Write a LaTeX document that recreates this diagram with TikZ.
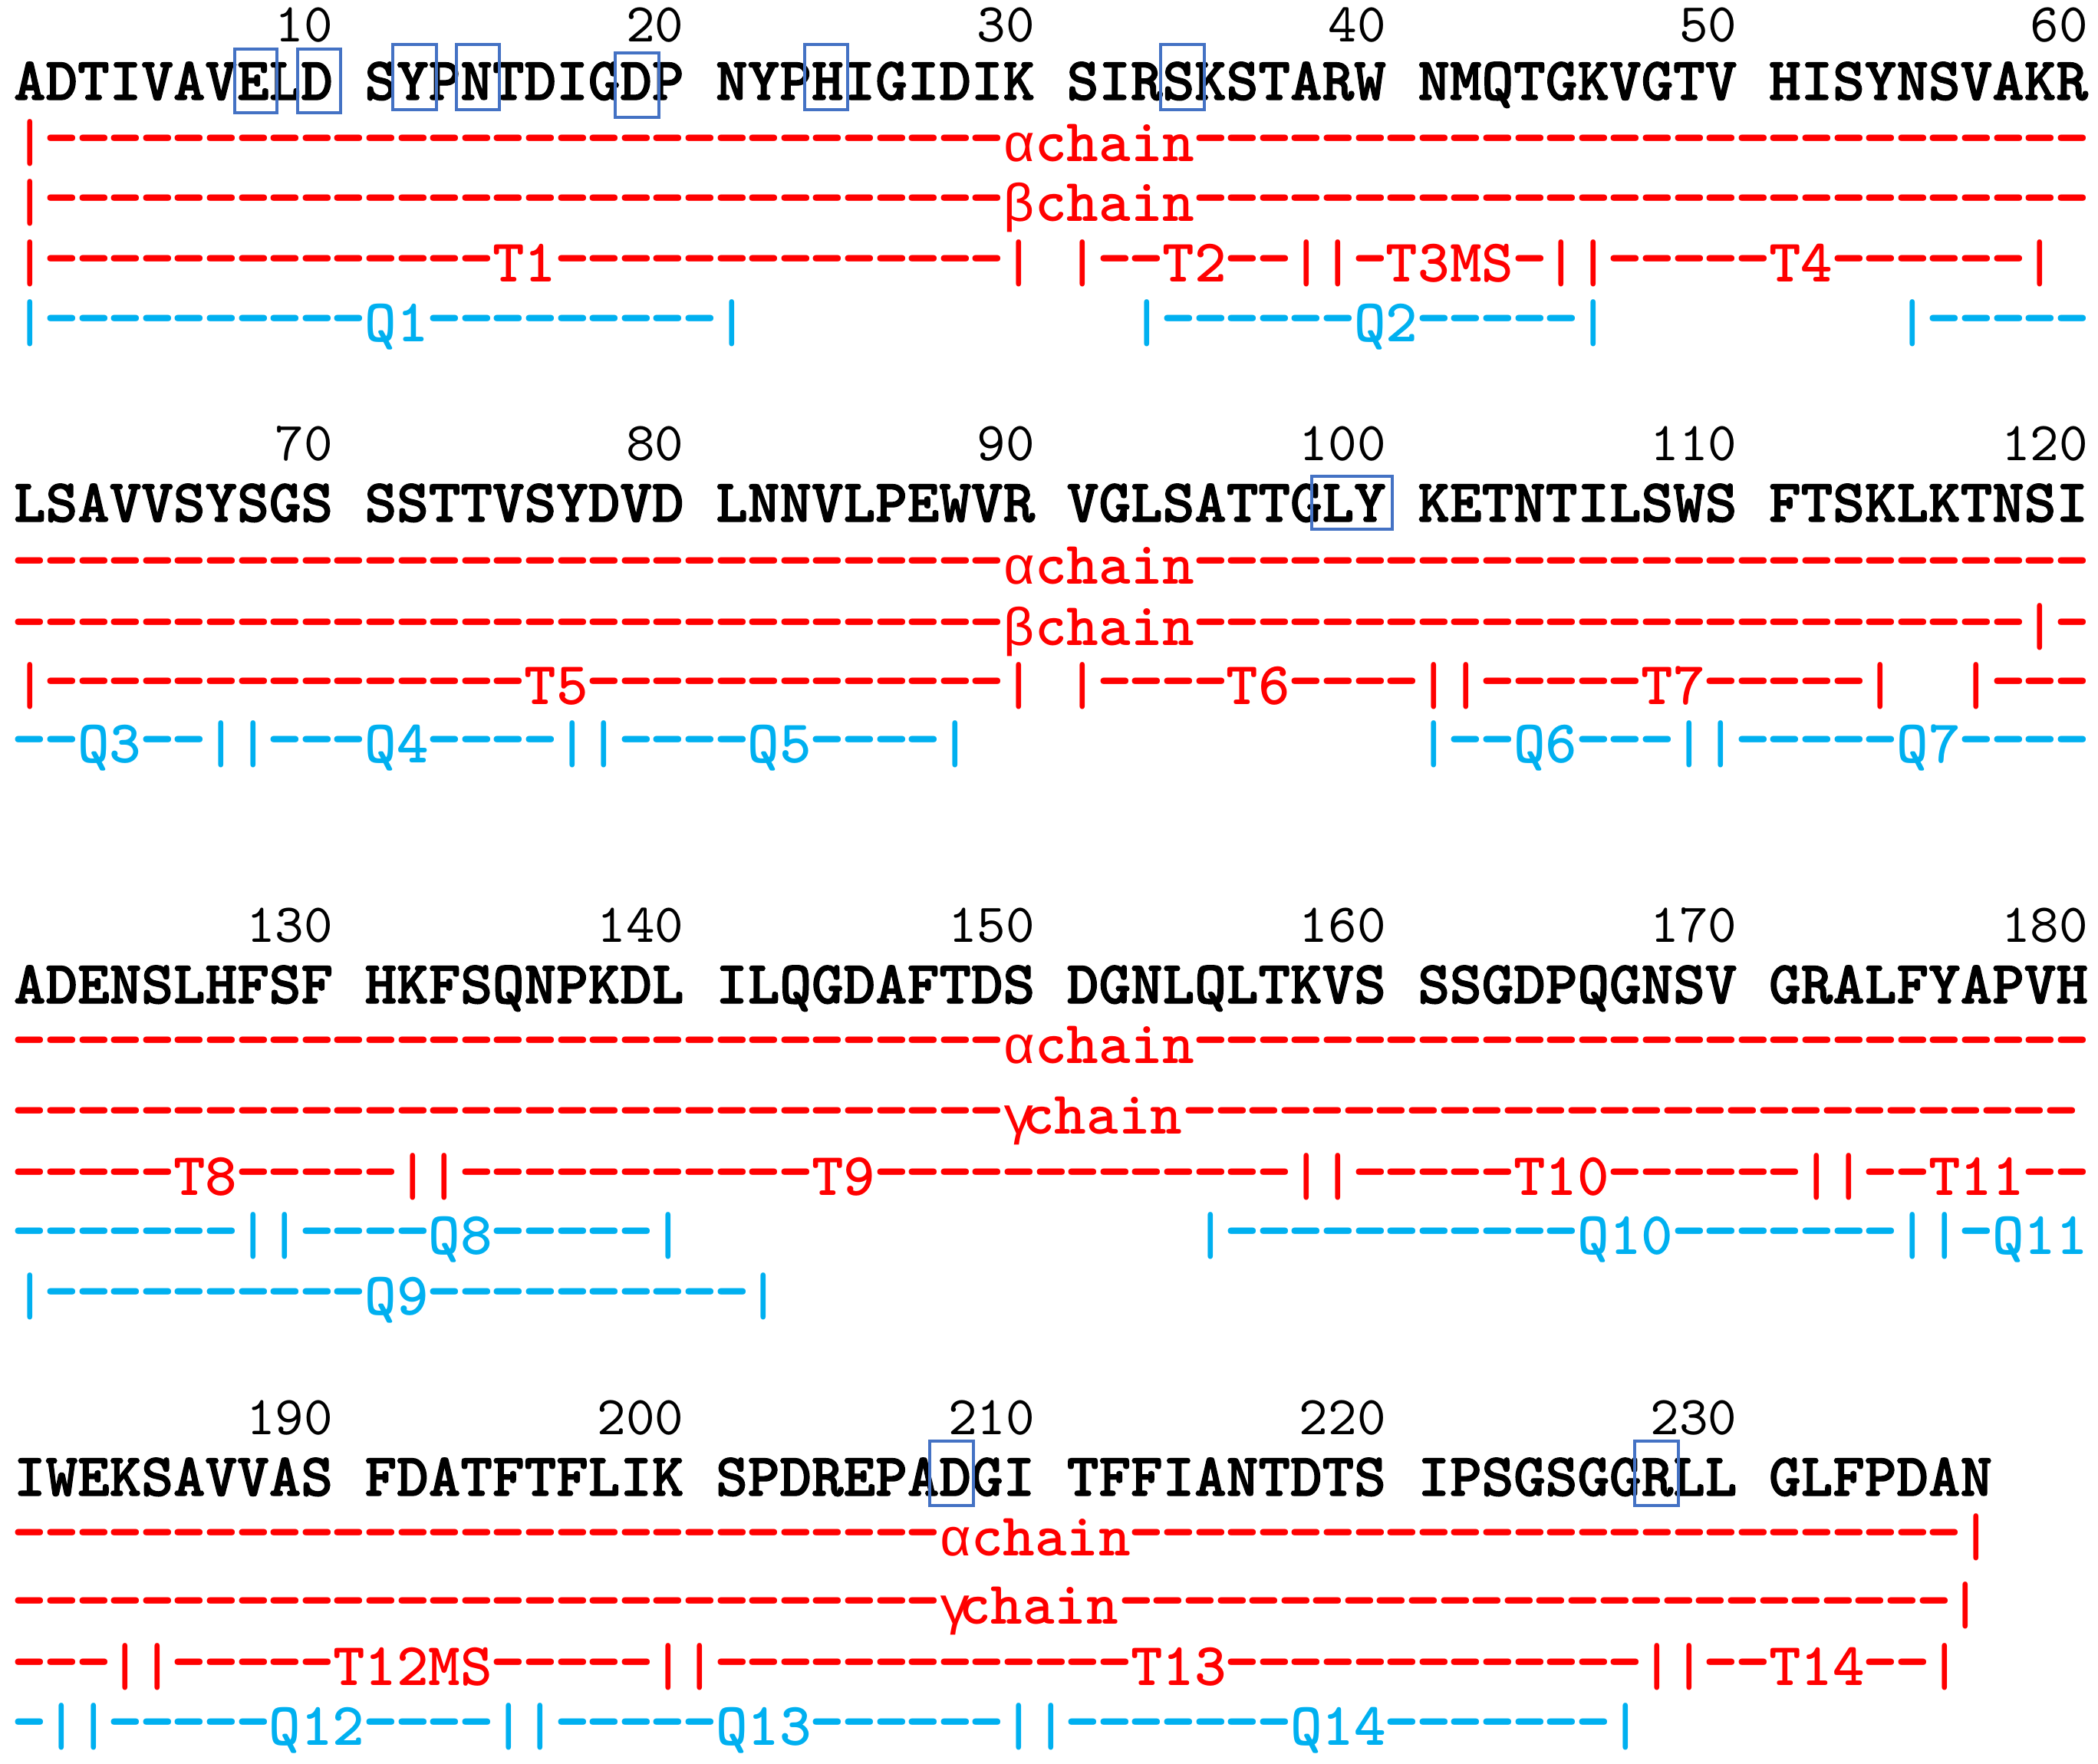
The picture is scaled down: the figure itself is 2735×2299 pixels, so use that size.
\documentclass[tikz,border=0pt]{standalone}
\usepackage{fontspec}
\usepackage{graphicx}
\newfontfamily\monof[Ligatures=TeXOff]{Liberation Mono}
\newfontfamily\lmreg[Ligatures=TeXOff, Extension=.otf]{lmmono10-regular}
\newfontfamily\lmbold[Ligatures=TeXOff, Extension=.otf]{lmmonolt10-bold}
\newfontfamily\lmheavy[Ligatures=TeXOff, Extension=.otf, FakeBold=1.6]{lmmonolt10-bold}
\newcommand\onehy{\hbox to 0.525em{\hss\scalebox{1.1}[1.25]{-}\hss}}
\ExplSyntaxOn
\cs_new:Npn \hy #1 {\prg_replicate:nn{#1}{\onehy}}
\ExplSyntaxOff
\newcommand\grk[1]{{\monof\fontsize{20.8}{24}\selectfont #1}}
\definecolor{segred}{HTML}{FF0000}
\definecolor{segblue}{HTML}{00B0F0}
\definecolor{boxblue}{HTML}{4472C4}
\tikzset{
  txt/.style={anchor=base west, inner sep=0pt, outer sep=0pt, font=\lmbold\fontsize{23.77}{28}\selectfont},
  numtxt/.style={txt, anchor=base east, text=black, font=\lmreg\fontsize{21.5}{26}\selectfont},
  seqtxt/.style={txt, text=black, font=\lmheavy\fontsize{23.77}{28}\selectfont},
  chainln/.style={txt, text=segred},
  cutln/.style={txt, text=segred},
  qln/.style={txt, text=segblue},
  resbox/.style={draw=boxblue, line width=1pt}
}
\newcounter{segn}
% number ending at column #2
\newcommand\numat[3]{\node[numtxt] (#1) at ({18+41.6*(#2+1)},#3) {#1};}
% start a line: style, first column, baseline y
\newcommand\startln[3]{\tikzset{cur/.style={#1}}\def\curcol{#2}\def\cury{#3}}
% place a piece of #1 columns
\newcommand\pc[2]{\stepcounter{segn}\node[cur] (s\arabic{segn}) at ({18+41.6*\curcol},\cury) {#2};\pgfmathsetmacro\curcol{\curcol+#1}}
\newcommand\dsh[1]{\pc{#1}{\hy{#1}}}
\newcommand\vb{\pc{1}{|}}
\newcommand\lbl[2]{\pc{#1}{#2}}
\newcommand\skipc[1]{\pgfmathsetmacro\curcol{\curcol+#1}}
\begin{document}
\begin{tikzpicture}[x=0.3pt,y=-0.3pt]
\fill[white] (0,0) rectangle (2735,2299);
\useasboundingbox (0,0) rectangle (2735,2299);

% ---------------- block 1 ----------------
\numat{10}{9}{54}\numat{20}{20}{54}\numat{30}{31}{54}\numat{40}{42}{54}\numat{50}{53}{54}\numat{60}{64}{54}
\startln{seqtxt}{0}{130}
\lbl{11}{ADTIVAVELD}\lbl{11}{SYPNTDIGDP}\lbl{11}{NYPHIGIDIK}\lbl{11}{SIRSKSTARW}\lbl{11}{NMQTGKVGTV}\lbl{10}{HISYNSVAKR}
\startln{chainln}{0}{210}
\vb\dsh{30}\lbl{6}{\grk{α}chain}\dsh{28}
\startln{chainln}{0}{288}
\vb\dsh{30}\lbl{6}{\grk{β}chain}\dsh{28}
\startln{cutln}{0}{367}
\vb\dsh{14}\lbl{2}{T1}\dsh{14}\vb\skipc{1}\vb\dsh{2}\lbl{2}{T2}\dsh{2}\vb\vb\dsh{1}\lbl{4}{T3MS}\dsh{1}\vb\vb\dsh{5}\lbl{2}{T4}\dsh{6}\vb
\startln{qln}{0}{445}
\vb\dsh{10}\lbl{2}{Q1}\dsh{9}\vb\skipc{12}\vb\dsh{6}\lbl{2}{Q2}\dsh{5}\vb\skipc{9}\vb\dsh{5}

% ---------------- block 2 ----------------
\numat{70}{9}{600}\numat{80}{20}{600}\numat{90}{31}{600}\numat{100}{42}{600}\numat{110}{53}{600}\numat{120}{64}{600}
\startln{seqtxt}{0}{680}
\lbl{11}{LSAVVSYSGS}\lbl{11}{SSTTVSYDVD}\lbl{11}{LNNVLPEWVR}\lbl{11}{VGLSATTGLY}\lbl{11}{KETNTILSWS}\lbl{10}{FTSKLKTNSI}
\startln{chainln}{0}{761}
\dsh{31}\lbl{6}{\grk{α}chain}\dsh{28}
\startln{chainln}{0}{841}
\dsh{31}\lbl{6}{\grk{β}chain}\dsh{26}\vb\dsh{1}
\startln{cutln}{0}{918}
\vb\dsh{15}\lbl{2}{T5}\dsh{13}\vb\skipc{1}\vb\dsh{4}\lbl{2}{T6}\dsh{4}\vb\vb\dsh{5}\lbl{2}{T7}\dsh{5}\vb\skipc{2}\vb\dsh{3}
\startln{qln}{0}{994}
\dsh{2}\lbl{2}{Q3}\dsh{2}\vb\vb\dsh{3}\lbl{2}{Q4}\dsh{4}\vb\vb\dsh{4}\lbl{2}{Q5}\dsh{4}\vb\skipc{14}\vb\dsh{2}\lbl{2}{Q6}\dsh{3}\vb\vb\dsh{5}\lbl{2}{Q7}\dsh{4}

% ---------------- block 3 ----------------
\numat{130}{9}{1228}\numat{140}{20}{1228}\numat{150}{31}{1228}\numat{160}{42}{1228}\numat{170}{53}{1228}\numat{180}{64}{1228}
\startln{seqtxt}{0}{1308}
\lbl{11}{ADENSLHFSF}\lbl{11}{HKFSQNPKDL}\lbl{11}{ILQGDAFTDS}\lbl{11}{DGNLQLTKVS}\lbl{11}{SSGDPQGNSV}\lbl{10}{GRALFYAPVH}
\startln{chainln}{0}{1386}
\dsh{31}\lbl{6}{\grk{α}chain}\dsh{28}
\startln{chainln}{0}{1478}
\dsh{31}\lbl{6}{\grk{γ}\kern-0.2em chain}\skipc{-0.33}\dsh{28}
\startln{cutln}{0}{1558}
\dsh{5}\lbl{2}{T8}\dsh{5}\vb\vb\dsh{11}\lbl{2}{T9}\dsh{13}\vb\vb\dsh{5}\lbl{3}{T10}\dsh{6}\vb\vb\dsh{2}\lbl{3}{T11}\dsh{2}
\startln{qln}{0}{1635}
\dsh{7}\vb\vb\dsh{4}\lbl{2}{Q8}\dsh{5}\vb\skipc{16}\vb\dsh{11}\lbl{3}{Q10}\dsh{7}\vb\vb\dsh{1}\lbl{3}{Q11}
\startln{qln}{0}{1714}
\vb\dsh{10}\lbl{2}{Q9}\dsh{10}\vb

% ---------------- block 4 ----------------
\numat{190}{9}{1870}\numat{200}{20}{1870}\numat{210}{31}{1870}\numat{220}{42}{1870}\numat{230}{53}{1870}
\startln{seqtxt}{0}{1950}
\lbl{11}{IWEKSAVVAS}\lbl{11}{FDATFTFLIK}\lbl{11}{SPDREPADGI}\lbl{11}{TFFIANTDTS}\lbl{11}{IPSGSGGRLL}\lbl{7}{GLFPDAN}
\startln{chainln}{0}{2028}
\dsh{29}\lbl{6}{\grk{α}chain}\dsh{26}\vb
\startln{chainln}{0}{2117}
\dsh{29}\lbl{6}{\grk{γ}\kern-0.2em chain}\skipc{-0.33}\dsh{26}\vb
\startln{cutln}{0}{2197}
\dsh{3}\vb\vb\dsh{5}\lbl{5}{T12MS}\dsh{5}\vb\vb\dsh{13}\lbl{3}{T13}\dsh{13}\vb\vb\dsh{2}\lbl{3}{T14}\dsh{2}\vb
\startln{qln}{0}{2275}
\dsh{1}\vb\vb\dsh{5}\lbl{3}{Q12}\dsh{4}\vb\vb\dsh{5}\lbl{3}{Q13}\dsh{6}\vb\vb\dsh{7}\lbl{3}{Q14}\dsh{7}\vb

% ---------------- residue boxes ----------------
\draw[resbox] (306,64) rectangle (361,147);
\draw[resbox] (388,64) rectangle (444,147);
\draw[resbox] (512,58) rectangle (569,143);
\draw[resbox] (595,58) rectangle (651,143);
\draw[resbox] (802,69) rectangle (859,153);
\draw[resbox] (1049,58) rectangle (1105,143);
\draw[resbox] (1513,58) rectangle (1570,143);
\draw[resbox] (1710,621) rectangle (1815,690);
\draw[resbox] (1212,1879) rectangle (1269,1963);
\draw[resbox] (2131,1879) rectangle (2188,1963);
\end{tikzpicture}
\end{document}
